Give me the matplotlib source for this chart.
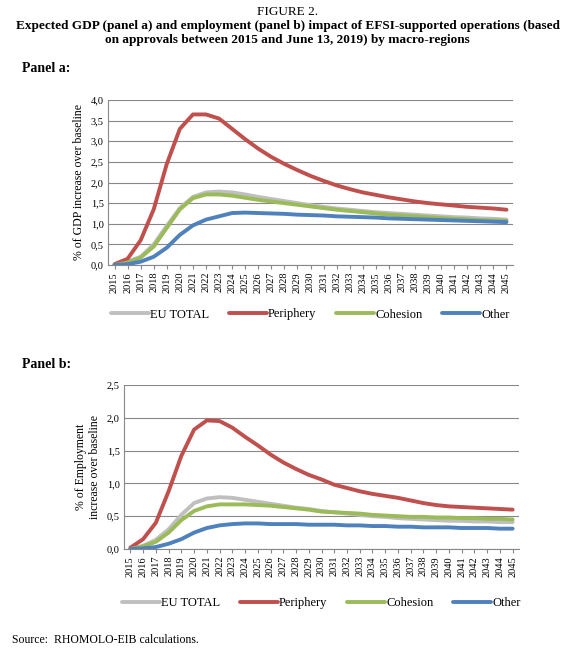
import matplotlib
matplotlib.use("Agg")
import matplotlib.pyplot as plt

years = list(range(2015, 2046))
gdp_periphery = [0.02,0.15,0.6,1.35,2.45,3.3,3.65,3.65,3.55,3.3,3.05,2.82,2.62,2.45,2.3,2.16,2.04,1.93,1.84,1.76,1.7,1.64,1.59,1.54,1.5,1.47,1.44,1.41,1.39,1.37,1.34]
gdp_eu = [0,0.08,0.2,0.5,0.95,1.38,1.65,1.76,1.78,1.76,1.71,1.65,1.6,1.55,1.5,1.45,1.41,1.37,1.34,1.31,1.28,1.26,1.24,1.22,1.2,1.18,1.16,1.15,1.13,1.12,1.1]
gdp_cohesion = [0,0.06,0.18,0.45,0.9,1.35,1.62,1.71,1.71,1.68,1.63,1.58,1.54,1.5,1.46,1.42,1.38,1.34,1.31,1.28,1.25,1.22,1.2,1.18,1.16,1.14,1.12,1.11,1.09,1.08,1.07]
gdp_other = [0,0.02,0.08,0.2,0.42,0.73,0.96,1.1,1.18,1.26,1.27,1.26,1.25,1.24,1.22,1.21,1.2,1.18,1.17,1.16,1.15,1.13,1.12,1.11,1.1,1.09,1.08,1.07,1.06,1.05,1.04]

emp_periphery = [0.02,0.15,0.4,0.88,1.42,1.82,1.96,1.95,1.85,1.71,1.58,1.44,1.32,1.22,1.13,1.06,0.98,0.93,0.88,0.84,0.81,0.78,0.74,0.7,0.67,0.65,0.64,0.63,0.62,0.61,0.6]
emp_eu = [0,0.05,0.14,0.3,0.52,0.7,0.77,0.79,0.78,0.75,0.72,0.69,0.66,0.63,0.61,0.58,0.56,0.54,0.52,0.5,0.49,0.47,0.46,0.45,0.44,0.43,0.43,0.42,0.42,0.41,0.41]
emp_cohesion = [0,0.04,0.11,0.25,0.44,0.58,0.65,0.68,0.68,0.68,0.67,0.66,0.64,0.62,0.6,0.57,0.56,0.55,0.54,0.52,0.51,0.5,0.49,0.49,0.48,0.48,0.47,0.47,0.46,0.46,0.45]
emp_other = [0,0.01,0.03,0.08,0.15,0.25,0.32,0.36,0.38,0.39,0.39,0.38,0.38,0.38,0.37,0.37,0.37,0.36,0.36,0.35,0.35,0.34,0.34,0.33,0.33,0.33,0.32,0.32,0.32,0.31,0.31]

labels = ["EU TOTAL", "Periphery", "Cohesion", "Other"]
colors = ["#bfbfbf", "#c0504d", "#9bbb59", "#4f81bd"]

plt.rcParams['font.family'] = ['Liberation Serif', 'DejaVu Serif']
W, H = 575, 660
fig = plt.figure(figsize=(W/100, H/100), dpi=100)

fig.text(0.5, 1-6/H, "FIGURE 2.", ha='center', va='top', fontsize=9.5)
fig.text(0.5, 1-20/H, "Expected GDP (panel a) and employment (panel b) impact of EFSI-supported operations (based\non approvals between 2015 and June 13, 2019) by macro-regions",
         ha='center', va='top', fontsize=9.5, fontweight='bold', linespacing=1.2)
fig.text(22/W, 1-62/H, "Panel a:", fontsize=10, fontweight='bold', va='top')
fig.text(22/W, 1-358/H, "Panel b:", fontsize=10, fontweight='bold', va='top')
fig.text(12/W, 1-634/H, "Source:  RHOMOLO-EIB calculations.", fontsize=8.5, va='top')

def panel(rect, series, ymax, ylabel, legy):
    ax = fig.add_axes(rect)
    for s, l, c in zip(series, labels, colors):
        ax.plot(years, s, color=c, lw=2.8, label=l, solid_capstyle='round')
    ax.set_xlim(2014.5, 2045.5)
    ax.set_ylim(0, ymax)
    ax.set_yticks([i*0.5 for i in range(int(ymax/0.5)+1)])
    ax.set_yticklabels([f"{i*0.5:.1f}".replace('.', ',') for i in range(int(ymax/0.5)+1)], fontsize=7.5)
    ax.set_xticks(years)
    ax.set_xticklabels([str(y) for y in years], rotation=90, fontsize=7.5)
    ax.grid(axis='y', color='#888888', lw=0.8)
    for sp in ['top', 'right']:
        ax.spines[sp].set_visible(False)
    ax.spines['left'].set_color('#888888')
    ax.spines['bottom'].set_color('#888888')
    ax.tick_params(axis='y', length=0, pad=3)
    ax.tick_params(axis='x', length=3, color='#888888', pad=2)
    ax.set_ylabel(ylabel, fontsize=8.5, labelpad=4)
    ax.legend(loc='center', bbox_to_anchor=(0.5, legy), ncol=4, frameon=False, fontsize=9,
              handlelength=3, handletextpad=0.1, columnspacing=1.6)
    return ax

panel([108/W, 1-265/H, 405/W, 165/H], [gdp_eu, gdp_periphery, gdp_cohesion, gdp_other], 4.0,
      "% of GDP increase over baseline", -0.3)
panel([124/W, 1-549/H, 395/W, 164/H], [emp_eu, emp_periphery, emp_cohesion, emp_other], 2.5,
      "% of Employment\nincrease over baseline", -0.33)

fig.savefig("out.png", dpi=100)
